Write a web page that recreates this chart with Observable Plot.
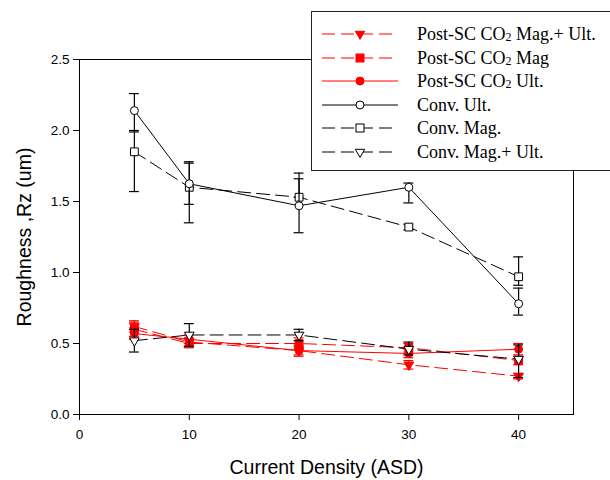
<!DOCTYPE html>
<html>
<head>
<meta charset="utf-8">
<script src="https://cdn.jsdelivr.net/npm/d3@7"></script>
<script src="https://cdn.jsdelivr.net/npm/@observablehq/plot@0.6"></script>
<style>
  html, body { margin: 0; padding: 0; background: white; }
  #wrap { position: relative; width: 610px; height: 480px; }
  #legend {
    position: absolute; left: 311px; top: 11px; width: 300px; height: 160px;
    border: 1px solid #222; background: white; box-sizing: border-box;
    font-family: "Liberation Serif", "Times New Roman", serif; font-size: 18px; color: #000;
  }
  .row { position: absolute; left: 0; height: 24px; display: flex; align-items: center; }
  .row svg { margin-left: 10px; }
  .row span { position: absolute; left: 105px; white-space: nowrap; }
  sub { font-size: 12px; vertical-align: -1px; }
</style>
</head>
<body>
<div id="wrap"></div>
<script>
// ---- data ----
const density = [5, 10, 20, 30, 40];
const xTicks = [0, 10, 20, 30, 40];
const yTicks = [0, 0.5, 1.0, 1.5, 2.0, 2.5];
const seriesNames = ["Post-SC CO2 Mag.+ Ult.", "Post-SC CO2 Mag", "Post-SC CO2 Ult.", "Conv. Ult.", "Conv. Mag.", "Conv. Mag.+ Ult."];

// Post-SC CO2 series (red)
const postMagUlt = [0.62, 0.51, 0.45, 0.35, 0.27];
const postMagUltLo = [0.58, 0.48, 0.41, 0.32, 0.25];
const postMagUltHi = [0.66, 0.54, 0.49, 0.38, 0.29];
const postMag = [0.60, 0.50, 0.50, 0.47, 0.38];
const postMagLo = [0.55, 0.47, 0.46, 0.44, 0.35];
const postMagHi = [0.65, 0.53, 0.54, 0.50, 0.41];
const postUlt = [0.57, 0.53, 0.45, 0.43, 0.46];
const postUltLo = [0.53, 0.50, 0.42, 0.40, 0.42];
const postUltHi = [0.61, 0.56, 0.48, 0.46, 0.50];

// Conventional series (black)
const convUlt = [2.14, 1.625, 1.47, 1.60, 0.78];
const convUltLo = [2.00, 1.48, 1.28, 1.49, 0.70];
const convUltHi = [2.26, 1.78, 1.66, 1.63, 0.89];
const convMag = [1.85, 1.60, 1.53, 1.32, 0.97];
const convMagLo = [1.57, 1.35, 1.53, 1.30, 0.91];
const convMagHi = [1.99, 1.77, 1.70, 1.34, 1.11];
const convMagUlt = [0.52, 0.56, 0.56, 0.46, 0.39];
const convMagUltLo = [0.44, 0.48, 0.52, 0.42, 0.26];
const convMagUltHi = [0.60, 0.64, 0.60, 0.51, 0.49];

// ---- build tables ----
const styles = [
  {color: "#ff0000", symbol: "triangle", rotate: 180, fill: "#ff0000", dash: "13,6", r: 3.6},
  {color: "#ff0000", symbol: "square", rotate: 0, fill: "#ff0000", dash: "13,6", r: 4.4},
  {color: "#ff0000", symbol: "circle", rotate: 0, fill: "#ff0000", dash: null, r: 4},
  {color: "#000000", symbol: "circle", rotate: 0, fill: "white", dash: null, r: 4},
  {color: "#000000", symbol: "square", rotate: 0, fill: "white", dash: "13,6", r: 4.4},
  {color: "#000000", symbol: "triangle", rotate: 180, fill: "white", dash: "13,6", r: 3.6}
];
const values = [postMagUlt, postMag, postUlt, convUlt, convMag, convMagUlt];
const lows = [postMagUltLo, postMagLo, postUltLo, convUltLo, convMagLo, convMagUltLo];
const highs = [postMagUltHi, postMagHi, postUltHi, convUltHi, convMagHi, convMagUltHi];

function rowsFor(i) {
  return density.map((x, j) => ({series: seriesNames[i], x, y: values[i][j], lo: lows[i][j], hi: highs[i][j]}));
}

const capHalf = 0.45;
const seriesMarks = [];
for (const i of [0, 1, 2, 5, 4, 3]) {
  const s = styles[i];
  const data = rowsFor(i);
  seriesMarks.push(
    Plot.line(data, {x: "x", y: "y", stroke: s.color, strokeWidth: 1, strokeDasharray: s.dash || undefined})
  );
}
for (const i of [0, 1, 2, 5, 4, 3]) {
  const s = styles[i];
  const data = rowsFor(i);
  seriesMarks.push(
    Plot.ruleX(data, {x: "x", y1: "lo", y2: "hi", stroke: s.color, strokeWidth: 1.2}),
    Plot.ruleY(data, {y: "lo", x1: d => d.x - capHalf, x2: d => d.x + capHalf, stroke: s.color, strokeWidth: 1.2}),
    Plot.ruleY(data, {y: "hi", x1: d => d.x - capHalf, x2: d => d.x + capHalf, stroke: s.color, strokeWidth: 1.2}),
    Plot.dot(data, {x: "x", y: "y", symbol: () => s.symbol, r: s.r, fill: s.fill, stroke: s.color, strokeWidth: 1, rotate: s.rotate})
  );
}

const chart = Plot.plot({
  width: 610, height: 480,
  marginLeft: 79, marginRight: 37, marginTop: 59, marginBottom: 66,
  x: {domain: [0, 45]},
  y: {domain: [0, 2.5]},
  style: {fontFamily: "'Liberation Sans', Arial, sans-serif", fontSize: "13.5px", color: "#000", background: "white"},
  marks: [
    Plot.axisX({ticks: xTicks, tickSize: 6, tickPadding: 9, label: null, tickFormat: d3.format("d"), strokeWidth: 1}),
    Plot.axisY({ticks: yTicks, tickSize: 6, tickPadding: 4, label: null, tickFormat: d3.format(".1f")}),
    Plot.text(["Current Density (ASD)"], {frameAnchor: "bottom", dy: 53, lineAnchor: "middle", textAnchor: "middle", fontSize: 19.5}),
    Plot.text(["Roughness ,Rz (um)"], {frameAnchor: "left", dx: -55, rotate: -90, lineAnchor: "middle", textAnchor: "middle", fontSize: 19.5}),
    ...seriesMarks,
    Plot.frame({stroke: "#000", strokeWidth: 1})
  ]
});

const wrap = document.getElementById("wrap");
wrap.appendChild(chart);

// ---- legend (HTML overlay, top-right, overlapping the plot as in the reference) ----
const legend = document.createElement("div");
legend.id = "legend";
const rowTops = [10, 34, 57, 81, 104, 128];
function markerSvg(s) {
  const cx = 38, cy = 12;
  let m = "";
  if (s.symbol === "circle") m = `<circle cx="${cx}" cy="${cy}" r="4" fill="${s.fill}" stroke="${s.color}" stroke-width="1"/>`;
  else if (s.symbol === "square") m = `<rect x="${cx - 4}" y="${cy - 4}" width="8" height="8" fill="${s.fill}" stroke="${s.color}" stroke-width="1"/>`;
  else m = `<path d="M${cx - 4.7},${cy - 2.7}L${cx + 4.7},${cy - 2.7}L${cx},${cy + 5.4}Z" fill="${s.fill}" stroke="${s.color}" stroke-width="1"/>`;
  const dash = s.dash ? `stroke-dasharray="${s.dash}"` : "";
  return `<svg width="76" height="24"><line x1="0" x2="76" y1="${cy}" y2="${cy}" stroke="${s.color}" stroke-width="1.2" ${dash}/>${m}</svg>`;
}
seriesNames.forEach((name, i) => {
  const row = document.createElement("div");
  row.className = "row";
  row.style.top = rowTops[i] + "px";
  const label = name.replace("CO2", "CO<sub>2</sub>");
  row.innerHTML = markerSvg(styles[i]) + `<span>${label}</span>`;
  legend.appendChild(row);
});
wrap.appendChild(legend);
</script>
</body>
</html>
